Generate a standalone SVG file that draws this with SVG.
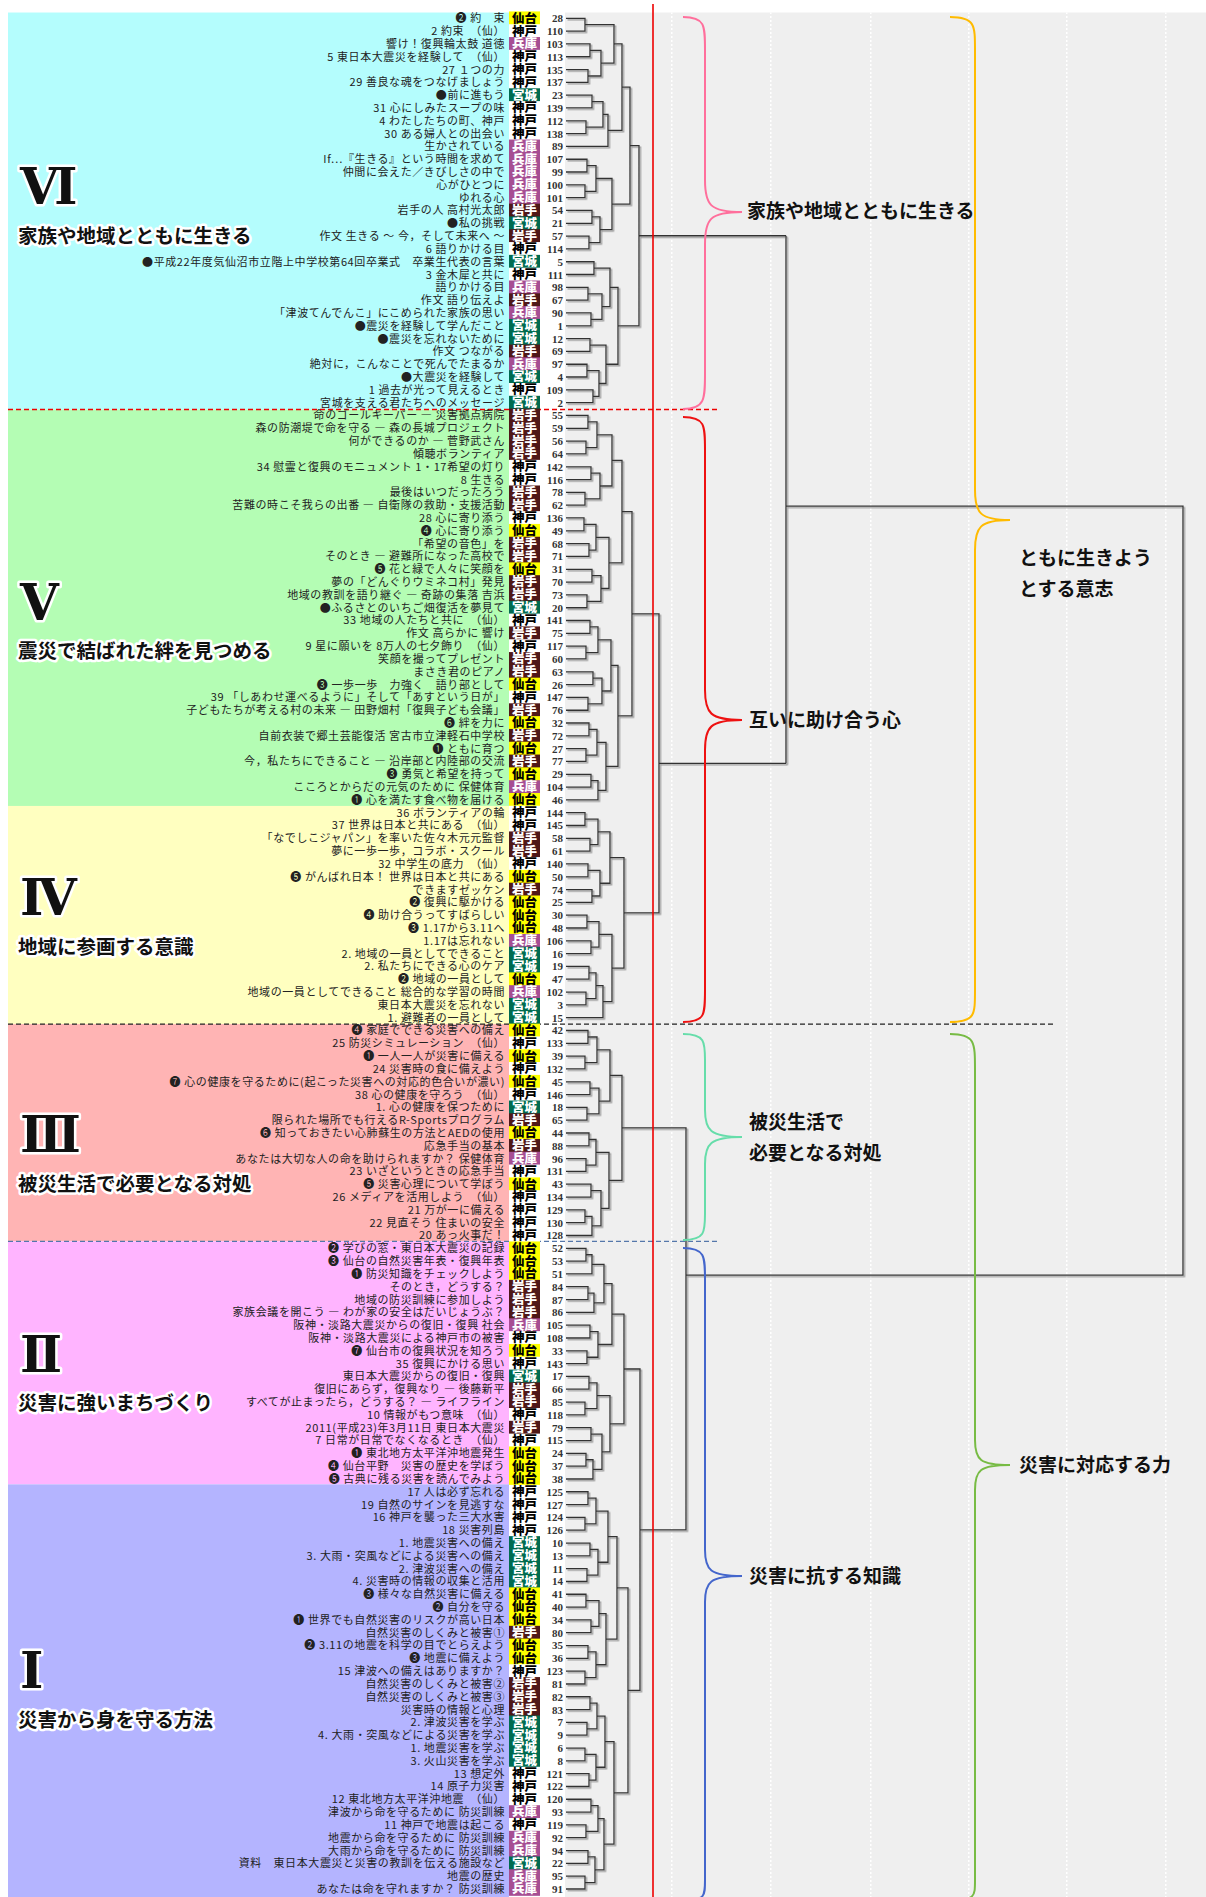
<svg xmlns="http://www.w3.org/2000/svg" xmlns:xlink="http://www.w3.org/1999/xlink" width="1206" height="1897" viewBox="0 0 1206 1897">
<style>
.lt{font-family:"Noto Sans CJK JP","Noto Sans",sans-serif;font-size:11px;text-anchor:end;fill:#222;letter-spacing:.6px}
.bt{font-family:"Noto Sans CJK JP",sans-serif;font-weight:900;font-size:12.5px;text-anchor:middle}
.nm{font-family:"Liberation Serif",serif;font-size:11px;font-weight:bold;text-anchor:end;fill:#333}
.rn{font-family:"DejaVu Serif","Liberation Serif",serif;font-weight:bold;font-size:50px;fill:#111;stroke:#fff;stroke-width:5px;paint-order:stroke;stroke-linejoin:round}
.tt{font-family:"Noto Sans CJK JP",sans-serif;font-weight:bold;font-size:19.5px;fill:#111;stroke:#fff;stroke-width:5px;paint-order:stroke;stroke-linejoin:round}
.bl{font-family:"Noto Sans CJK JP",sans-serif;font-weight:bold;font-size:19px;fill:#111}
.br{fill:none;stroke-width:2px}
.ln{fill:none;stroke:#333;stroke-width:1.3px}
</style>
<defs>
<g id="sd"><rect x="509" y="-6.9" width="31" height="13.8" fill="#ffff00"/><text class="bt" x="524.5" y="4.4" fill="#000">仙台</text></g>
<g id="kb"><rect x="509" y="-6.9" width="31" height="13.8" fill="#fff"/><text class="bt" x="524.5" y="4.4" fill="#000">神戸</text></g>
<g id="hg"><rect x="509" y="-6.9" width="31" height="13.8" fill="#a64e93"/><text class="bt" x="524.5" y="4.4" fill="#fff">兵庫</text></g>
<g id="iw"><rect x="509" y="-6.9" width="31" height="13.8" fill="#4f1818"/><text class="bt" x="524.5" y="4.4" fill="#fff">岩手</text></g>
<g id="mg"><rect x="509" y="-6.9" width="31" height="13.8" fill="#006b50"/><text class="bt" x="524.5" y="4.4" fill="#fff">宮城</text></g>
<pattern id="dots" width="2" height="4" patternUnits="userSpaceOnUse"><rect width="2" height="2" fill="#fff"/></pattern>
<filter id="sh" x="-5%" y="-5%" width="110%" height="110%"><feDropShadow dx="1.5" dy="1.5" stdDeviation="0" flood-color="#999"/></filter>
</defs>

<!-- plot area -->
<rect width="1206" height="1897" fill="#fff"/>
<rect x="565" y="12.5" width="641" height="1885" fill="#efefef"/>
<g fill="url(#dots)">
<rect x="671" y="12.5" width="1.5" height="1885"/>
<rect x="770" y="12.5" width="1.5" height="1885"/>
<rect x="870" y="12.5" width="1.5" height="1885"/>
<rect x="968" y="12.5" width="1.5" height="1885"/>
<rect x="1066" y="12.5" width="1.5" height="1885"/>
<rect x="1165" y="12.5" width="1.5" height="1885"/>
</g>

<!-- list and tree share one vertical scale -->
<g transform="matrix(1,0,0,0.996166,0,0.0702)">
<rect x="8" y="12.5" width="501" height="398.5" fill="#b4fdfd"/>
<rect x="8" y="411" width="501" height="398" fill="#b4fdb4"/>
<rect x="8" y="809" width="501" height="219" fill="#ffffc0"/>
<rect x="8" y="1028" width="501" height="218" fill="#ffb4b4"/>
<rect x="8" y="1246" width="501" height="244" fill="#ffb4ff"/>
<rect x="8" y="1490" width="501" height="420" fill="#b4b4ff"/>

<!-- section dividers -->
<line x1="8" y1="411" x2="720" y2="411" stroke="#e00" stroke-width="1.3" stroke-dasharray="5,3"/>
<line x1="8" y1="1028" x2="1055" y2="1028" stroke="#222" stroke-width="1.3" stroke-dasharray="5,3"/>
<line x1="8" y1="1246" x2="720" y2="1246" stroke="#5577aa" stroke-width="1.3" stroke-dasharray="5,3"/>

<!-- leaves -->
<g id="leaves">
<g id="n28" transform="translate(0,18.3)"><text class="lt" x="505" y="4">❷ 約　束</text><use href="#sd"/><text class="nm" x="563" y="4">28</text></g>
<g id="n110" transform="translate(0,31.16)"><text class="lt" x="505" y="4">2 約束　（仙）</text><use href="#kb"/><text class="nm" x="563" y="4">110</text></g>
<g id="n103" transform="translate(0,44.02)"><text class="lt" x="505" y="4">響け！復興輪太鼓 道徳</text><use href="#hg"/><text class="nm" x="563" y="4">103</text></g>
<g id="n113" transform="translate(0,56.89)"><text class="lt" x="505" y="4">5 東日本大震災を経験して　（仙）</text><use href="#kb"/><text class="nm" x="563" y="4">113</text></g>
<g id="n135" transform="translate(0,69.75)"><text class="lt" x="505" y="4">27 １つの力</text><use href="#kb"/><text class="nm" x="563" y="4">135</text></g>
<g id="n137" transform="translate(0,82.61)"><text class="lt" x="505" y="4">29 善良な魂をつなげましょう</text><use href="#kb"/><text class="nm" x="563" y="4">137</text></g>
<g id="n23" transform="translate(0,95.47)"><text class="lt" x="505" y="4">●前に進もう</text><use href="#mg"/><text class="nm" x="563" y="4">23</text></g>
<g id="n139" transform="translate(0,108.33)"><text class="lt" x="505" y="4">31 心にしみたスープの味</text><use href="#kb"/><text class="nm" x="563" y="4">139</text></g>
<g id="n112" transform="translate(0,121.2)"><text class="lt" x="505" y="4">4 わたしたちの町、神戸</text><use href="#kb"/><text class="nm" x="563" y="4">112</text></g>
<g id="n138" transform="translate(0,134.06)"><text class="lt" x="505" y="4">30 ある婦人との出会い</text><use href="#kb"/><text class="nm" x="563" y="4">138</text></g>
<g id="n89" transform="translate(0,146.92)"><text class="lt" x="505" y="4">生かされている</text><use href="#hg"/><text class="nm" x="563" y="4">89</text></g>
<g id="n107" transform="translate(0,159.78)"><text class="lt" x="505" y="4">If…『生きる』という時間を求めて</text><use href="#hg"/><text class="nm" x="563" y="4">107</text></g>
<g id="n99" transform="translate(0,172.64)"><text class="lt" x="505" y="4">仲間に会えた／きびしさの中で</text><use href="#hg"/><text class="nm" x="563" y="4">99</text></g>
<g id="n100" transform="translate(0,185.51)"><text class="lt" x="505" y="4">心がひとつに</text><use href="#hg"/><text class="nm" x="563" y="4">100</text></g>
<g id="n101" transform="translate(0,198.37)"><text class="lt" x="505" y="4">ゆれる心</text><use href="#hg"/><text class="nm" x="563" y="4">101</text></g>
<g id="n54" transform="translate(0,211.23)"><text class="lt" x="505" y="4">岩手の人 高村光太郎</text><use href="#iw"/><text class="nm" x="563" y="4">54</text></g>
<g id="n21" transform="translate(0,224.09)"><text class="lt" x="505" y="4">●私の挑戦</text><use href="#mg"/><text class="nm" x="563" y="4">21</text></g>
<g id="n57" transform="translate(0,236.95)"><text class="lt" x="505" y="4">作文 生きる ～ 今，そして未来へ ～</text><use href="#iw"/><text class="nm" x="563" y="4">57</text></g>
<g id="n114" transform="translate(0,249.82)"><text class="lt" x="505" y="4">6 語りかける目</text><use href="#kb"/><text class="nm" x="563" y="4">114</text></g>
<g id="n5" transform="translate(0,262.68)"><text class="lt" x="505" y="4">●平成22年度気仙沼市立階上中学校第64回卒業式　卒業生代表の言葉</text><use href="#mg"/><text class="nm" x="563" y="4">5</text></g>
<g id="n111" transform="translate(0,275.54)"><text class="lt" x="505" y="4">3 金木犀と共に</text><use href="#kb"/><text class="nm" x="563" y="4">111</text></g>
<g id="n98" transform="translate(0,288.4)"><text class="lt" x="505" y="4">語りかける目</text><use href="#hg"/><text class="nm" x="563" y="4">98</text></g>
<g id="n67" transform="translate(0,301.26)"><text class="lt" x="505" y="4">作文 語り伝えよ</text><use href="#iw"/><text class="nm" x="563" y="4">67</text></g>
<g id="n90" transform="translate(0,314.13)"><text class="lt" x="505" y="4">「津波てんでんこ」にこめられた家族の思い</text><use href="#hg"/><text class="nm" x="563" y="4">90</text></g>
<g id="n1" transform="translate(0,326.99)"><text class="lt" x="505" y="4">●震災を経験して学んだこと</text><use href="#mg"/><text class="nm" x="563" y="4">1</text></g>
<g id="n12" transform="translate(0,339.85)"><text class="lt" x="505" y="4">●震災を忘れないために</text><use href="#mg"/><text class="nm" x="563" y="4">12</text></g>
<g id="n69" transform="translate(0,352.71)"><text class="lt" x="505" y="4">作文 つながる</text><use href="#iw"/><text class="nm" x="563" y="4">69</text></g>
<g id="n97" transform="translate(0,365.57)"><text class="lt" x="505" y="4">絶対に，こんなことで死んでたまるか</text><use href="#hg"/><text class="nm" x="563" y="4">97</text></g>
<g id="n4" transform="translate(0,378.44)"><text class="lt" x="505" y="4">●大震災を経験して</text><use href="#mg"/><text class="nm" x="563" y="4">4</text></g>
<g id="n109" transform="translate(0,391.3)"><text class="lt" x="505" y="4">1 過去が光って見えるとき</text><use href="#kb"/><text class="nm" x="563" y="4">109</text></g>
<g id="n2" transform="translate(0,404.16)"><text class="lt" x="505" y="4">宮城を支える君たちへのメッセージ</text><use href="#mg"/><text class="nm" x="563" y="4">2</text></g>
<g id="n55" transform="translate(0,417.02)"><text class="lt" x="505" y="4">命のゴールキーパー ― 災害拠点病院</text><use href="#iw"/><text class="nm" x="563" y="4">55</text></g>
<g id="n59" transform="translate(0,429.88)"><text class="lt" x="505" y="4">森の防潮堤で命を守る ― 森の長城プロジェクト</text><use href="#iw"/><text class="nm" x="563" y="4">59</text></g>
<g id="n56" transform="translate(0,442.75)"><text class="lt" x="505" y="4">何ができるのか ― 菅野武さん</text><use href="#iw"/><text class="nm" x="563" y="4">56</text></g>
<g id="n64" transform="translate(0,455.61)"><text class="lt" x="505" y="4">傾聴ボランティア</text><use href="#iw"/><text class="nm" x="563" y="4">64</text></g>
<g id="n142" transform="translate(0,468.47)"><text class="lt" x="505" y="4">34 慰霊と復興のモニュメント 1・17希望の灯り</text><use href="#kb"/><text class="nm" x="563" y="4">142</text></g>
<g id="n116" transform="translate(0,481.33)"><text class="lt" x="505" y="4">8 生きる</text><use href="#kb"/><text class="nm" x="563" y="4">116</text></g>
<g id="n78" transform="translate(0,494.19)"><text class="lt" x="505" y="4">最後はいつだったろう</text><use href="#iw"/><text class="nm" x="563" y="4">78</text></g>
<g id="n62" transform="translate(0,507.06)"><text class="lt" x="505" y="4">苦難の時こそ我らの出番 ― 自衛隊の救助・支援活動</text><use href="#iw"/><text class="nm" x="563" y="4">62</text></g>
<g id="n136" transform="translate(0,519.92)"><text class="lt" x="505" y="4">28 心に寄り添う</text><use href="#kb"/><text class="nm" x="563" y="4">136</text></g>
<g id="n49" transform="translate(0,532.78)"><text class="lt" x="505" y="4">❹ 心に寄り添う</text><use href="#sd"/><text class="nm" x="563" y="4">49</text></g>
<g id="n68" transform="translate(0,545.64)"><text class="lt" x="505" y="4">「希望の音色」を</text><use href="#iw"/><text class="nm" x="563" y="4">68</text></g>
<g id="n71" transform="translate(0,558.5)"><text class="lt" x="505" y="4">そのとき ― 避難所になった高校で</text><use href="#iw"/><text class="nm" x="563" y="4">71</text></g>
<g id="n31" transform="translate(0,571.37)"><text class="lt" x="505" y="4">❺ 花と緑で人々に笑顔を</text><use href="#sd"/><text class="nm" x="563" y="4">31</text></g>
<g id="n70" transform="translate(0,584.23)"><text class="lt" x="505" y="4">夢の「どんぐりウミネコ村」発見</text><use href="#iw"/><text class="nm" x="563" y="4">70</text></g>
<g id="n73" transform="translate(0,597.09)"><text class="lt" x="505" y="4">地域の教訓を語り継ぐ ― 奇跡の集落 吉浜</text><use href="#iw"/><text class="nm" x="563" y="4">73</text></g>
<g id="n20" transform="translate(0,609.95)"><text class="lt" x="505" y="4">●ふるさとのいちご畑復活を夢見て</text><use href="#mg"/><text class="nm" x="563" y="4">20</text></g>
<g id="n141" transform="translate(0,622.81)"><text class="lt" x="505" y="4">33 地域の人たちと共に　（仙）</text><use href="#kb"/><text class="nm" x="563" y="4">141</text></g>
<g id="n75" transform="translate(0,635.68)"><text class="lt" x="505" y="4">作文 高らかに 響け</text><use href="#iw"/><text class="nm" x="563" y="4">75</text></g>
<g id="n117" transform="translate(0,648.54)"><text class="lt" x="505" y="4">9 星に願いを 8万人の七夕飾り　（仙）</text><use href="#kb"/><text class="nm" x="563" y="4">117</text></g>
<g id="n60" transform="translate(0,661.4)"><text class="lt" x="505" y="4">笑顔を撮ってプレゼント</text><use href="#iw"/><text class="nm" x="563" y="4">60</text></g>
<g id="n63" transform="translate(0,674.26)"><text class="lt" x="505" y="4">まさき君のピアノ</text><use href="#iw"/><text class="nm" x="563" y="4">63</text></g>
<g id="n26" transform="translate(0,687.12)"><text class="lt" x="505" y="4">❸ 一歩一歩　力強く　語り部として</text><use href="#sd"/><text class="nm" x="563" y="4">26</text></g>
<g id="n147" transform="translate(0,699.99)"><text class="lt" x="505" y="4">39 「しあわせ運べるように」そして「あすという日が」</text><use href="#kb"/><text class="nm" x="563" y="4">147</text></g>
<g id="n76" transform="translate(0,712.85)"><text class="lt" x="505" y="4">子どもたちが考える村の未来 ― 田野畑村「復興子ども会議」</text><use href="#iw"/><text class="nm" x="563" y="4">76</text></g>
<g id="n32" transform="translate(0,725.71)"><text class="lt" x="505" y="4">❻ 絆を力に</text><use href="#sd"/><text class="nm" x="563" y="4">32</text></g>
<g id="n72" transform="translate(0,738.57)"><text class="lt" x="505" y="4">自前衣装で郷土芸能復活 宮古市立津軽石中学校</text><use href="#iw"/><text class="nm" x="563" y="4">72</text></g>
<g id="n27" transform="translate(0,751.43)"><text class="lt" x="505" y="4">❶ ともに育つ</text><use href="#sd"/><text class="nm" x="563" y="4">27</text></g>
<g id="n77" transform="translate(0,764.3)"><text class="lt" x="505" y="4">今，私たちにできること ― 沿岸部と内陸部の交流</text><use href="#iw"/><text class="nm" x="563" y="4">77</text></g>
<g id="n29" transform="translate(0,777.16)"><text class="lt" x="505" y="4">❸ 勇気と希望を持って</text><use href="#sd"/><text class="nm" x="563" y="4">29</text></g>
<g id="n104" transform="translate(0,790.02)"><text class="lt" x="505" y="4">こころとからだの元気のために 保健体育</text><use href="#hg"/><text class="nm" x="563" y="4">104</text></g>
<g id="n46" transform="translate(0,802.88)"><text class="lt" x="505" y="4">❶ 心を満たす食べ物を届ける</text><use href="#sd"/><text class="nm" x="563" y="4">46</text></g>
<g id="n144" transform="translate(0,815.74)"><text class="lt" x="505" y="4">36 ボランティアの輪</text><use href="#kb"/><text class="nm" x="563" y="4">144</text></g>
<g id="n145" transform="translate(0,828.61)"><text class="lt" x="505" y="4">37 世界は日本と共にある　（仙）</text><use href="#kb"/><text class="nm" x="563" y="4">145</text></g>
<g id="n58" transform="translate(0,841.47)"><text class="lt" x="505" y="4">「なでしこジャパン」を率いた佐々木元元監督</text><use href="#iw"/><text class="nm" x="563" y="4">58</text></g>
<g id="n61" transform="translate(0,854.33)"><text class="lt" x="505" y="4">夢に一歩一歩，コラボ・スクール</text><use href="#iw"/><text class="nm" x="563" y="4">61</text></g>
<g id="n140" transform="translate(0,867.19)"><text class="lt" x="505" y="4">32 中学生の底力　（仙）</text><use href="#kb"/><text class="nm" x="563" y="4">140</text></g>
<g id="n50" transform="translate(0,880.05)"><text class="lt" x="505" y="4">❺ がんばれ日本！ 世界は日本と共にある</text><use href="#sd"/><text class="nm" x="563" y="4">50</text></g>
<g id="n74" transform="translate(0,892.92)"><text class="lt" x="505" y="4">できますゼッケン</text><use href="#iw"/><text class="nm" x="563" y="4">74</text></g>
<g id="n25" transform="translate(0,905.78)"><text class="lt" x="505" y="4">❷ 復興に駆かける</text><use href="#sd"/><text class="nm" x="563" y="4">25</text></g>
<g id="n30" transform="translate(0,918.64)"><text class="lt" x="505" y="4">❹ 助け合うってすばらしい</text><use href="#sd"/><text class="nm" x="563" y="4">30</text></g>
<g id="n48" transform="translate(0,931.5)"><text class="lt" x="505" y="4">❸ 1.17から3.11へ</text><use href="#sd"/><text class="nm" x="563" y="4">48</text></g>
<g id="n106" transform="translate(0,944.36)"><text class="lt" x="505" y="4">1.17は忘れない</text><use href="#hg"/><text class="nm" x="563" y="4">106</text></g>
<g id="n16" transform="translate(0,957.23)"><text class="lt" x="505" y="4">2. 地域の一員としてできること</text><use href="#mg"/><text class="nm" x="563" y="4">16</text></g>
<g id="n19" transform="translate(0,970.09)"><text class="lt" x="505" y="4">2. 私たちにできる心のケア</text><use href="#mg"/><text class="nm" x="563" y="4">19</text></g>
<g id="n47" transform="translate(0,982.95)"><text class="lt" x="505" y="4">❷ 地域の一員として</text><use href="#sd"/><text class="nm" x="563" y="4">47</text></g>
<g id="n102" transform="translate(0,995.81)"><text class="lt" x="505" y="4">地域の一員としてできること 総合的な学習の時間</text><use href="#hg"/><text class="nm" x="563" y="4">102</text></g>
<g id="n3" transform="translate(0,1008.67)"><text class="lt" x="505" y="4">東日本大震災を忘れない</text><use href="#mg"/><text class="nm" x="563" y="4">3</text></g>
<g id="n15" transform="translate(0,1021.54)"><text class="lt" x="505" y="4">1. 避難者の一員として</text><use href="#mg"/><text class="nm" x="563" y="4">15</text></g>
<g id="n42" transform="translate(0,1034.4)"><text class="lt" x="505" y="4">❹ 家庭でできる災害への備え</text><use href="#sd"/><text class="nm" x="563" y="4">42</text></g>
<g id="n133" transform="translate(0,1047.26)"><text class="lt" x="505" y="4">25 防災シミュレーション　（仙）</text><use href="#kb"/><text class="nm" x="563" y="4">133</text></g>
<g id="n39" transform="translate(0,1060.12)"><text class="lt" x="505" y="4">❶ 一人一人が災害に備える</text><use href="#sd"/><text class="nm" x="563" y="4">39</text></g>
<g id="n132" transform="translate(0,1072.98)"><text class="lt" x="505" y="4">24 災害時の食に備えよう</text><use href="#kb"/><text class="nm" x="563" y="4">132</text></g>
<g id="n45" transform="translate(0,1085.85)"><text class="lt" x="505" y="4">❼ 心の健康を守るために(起こった災害への対応的色合いが濃い)</text><use href="#sd"/><text class="nm" x="563" y="4">45</text></g>
<g id="n146" transform="translate(0,1098.71)"><text class="lt" x="505" y="4">38 心の健康を守ろう　（仙）</text><use href="#kb"/><text class="nm" x="563" y="4">146</text></g>
<g id="n18" transform="translate(0,1111.57)"><text class="lt" x="505" y="4">1. 心の健康を保つために</text><use href="#mg"/><text class="nm" x="563" y="4">18</text></g>
<g id="n65" transform="translate(0,1124.43)"><text class="lt" x="505" y="4">限られた場所でも行えるR-Sportsプログラム</text><use href="#iw"/><text class="nm" x="563" y="4">65</text></g>
<g id="n44" transform="translate(0,1137.29)"><text class="lt" x="505" y="4">❻ 知っておきたい心肺蘇生の方法とAEDの使用</text><use href="#sd"/><text class="nm" x="563" y="4">44</text></g>
<g id="n88" transform="translate(0,1150.16)"><text class="lt" x="505" y="4">応急手当の基本</text><use href="#iw"/><text class="nm" x="563" y="4">88</text></g>
<g id="n96" transform="translate(0,1163.02)"><text class="lt" x="505" y="4">あなたは大切な人の命を助けられますか？ 保健体育</text><use href="#hg"/><text class="nm" x="563" y="4">96</text></g>
<g id="n131" transform="translate(0,1175.88)"><text class="lt" x="505" y="4">23 いざというときの応急手当</text><use href="#kb"/><text class="nm" x="563" y="4">131</text></g>
<g id="n43" transform="translate(0,1188.74)"><text class="lt" x="505" y="4">❺ 災害心理について学ぼう</text><use href="#sd"/><text class="nm" x="563" y="4">43</text></g>
<g id="n134" transform="translate(0,1201.6)"><text class="lt" x="505" y="4">26 メディアを活用しよう　（仙）</text><use href="#kb"/><text class="nm" x="563" y="4">134</text></g>
<g id="n129" transform="translate(0,1214.47)"><text class="lt" x="505" y="4">21 万が一に備える</text><use href="#kb"/><text class="nm" x="563" y="4">129</text></g>
<g id="n130" transform="translate(0,1227.33)"><text class="lt" x="505" y="4">22 見直そう 住まいの安全</text><use href="#kb"/><text class="nm" x="563" y="4">130</text></g>
<g id="n128" transform="translate(0,1240.19)"><text class="lt" x="505" y="4">20 あっ火事だ！</text><use href="#kb"/><text class="nm" x="563" y="4">128</text></g>
<g id="n52" transform="translate(0,1253.05)"><text class="lt" x="505" y="4">❷ 学びの窓・東日本大震災の記録</text><use href="#sd"/><text class="nm" x="563" y="4">52</text></g>
<g id="n53" transform="translate(0,1265.91)"><text class="lt" x="505" y="4">❸ 仙台の自然災害年表・復興年表</text><use href="#sd"/><text class="nm" x="563" y="4">53</text></g>
<g id="n51" transform="translate(0,1278.78)"><text class="lt" x="505" y="4">❶ 防災知識をチェックしよう</text><use href="#sd"/><text class="nm" x="563" y="4">51</text></g>
<g id="n84" transform="translate(0,1291.64)"><text class="lt" x="505" y="4">そのとき，どうする？</text><use href="#iw"/><text class="nm" x="563" y="4">84</text></g>
<g id="n87" transform="translate(0,1304.5)"><text class="lt" x="505" y="4">地域の防災訓練に参加しよう</text><use href="#iw"/><text class="nm" x="563" y="4">87</text></g>
<g id="n86" transform="translate(0,1317.36)"><text class="lt" x="505" y="4">家族会議を開こう ― わが家の安全はだいじょうぶ？</text><use href="#iw"/><text class="nm" x="563" y="4">86</text></g>
<g id="n105" transform="translate(0,1330.22)"><text class="lt" x="505" y="4">阪神・淡路大震災からの復旧・復興 社会</text><use href="#hg"/><text class="nm" x="563" y="4">105</text></g>
<g id="n108" transform="translate(0,1343.09)"><text class="lt" x="505" y="4">阪神・淡路大震災による神戸市の被害</text><use href="#kb"/><text class="nm" x="563" y="4">108</text></g>
<g id="n33" transform="translate(0,1355.95)"><text class="lt" x="505" y="4">❼ 仙台市の復興状況を知ろう</text><use href="#sd"/><text class="nm" x="563" y="4">33</text></g>
<g id="n143" transform="translate(0,1368.81)"><text class="lt" x="505" y="4">35 復興にかける思い</text><use href="#kb"/><text class="nm" x="563" y="4">143</text></g>
<g id="n17" transform="translate(0,1381.67)"><text class="lt" x="505" y="4">東日本大震災からの復旧・復興</text><use href="#mg"/><text class="nm" x="563" y="4">17</text></g>
<g id="n66" transform="translate(0,1394.53)"><text class="lt" x="505" y="4">復旧にあらず，復興なり ― 後藤新平</text><use href="#iw"/><text class="nm" x="563" y="4">66</text></g>
<g id="n85" transform="translate(0,1407.4)"><text class="lt" x="505" y="4">すべてが止まったら，どうする？ ― ライフライン</text><use href="#iw"/><text class="nm" x="563" y="4">85</text></g>
<g id="n118" transform="translate(0,1420.26)"><text class="lt" x="505" y="4">10 情報がもつ意味　（仙）</text><use href="#kb"/><text class="nm" x="563" y="4">118</text></g>
<g id="n79" transform="translate(0,1433.12)"><text class="lt" x="505" y="4">2011(平成23)年3月11日 東日本大震災</text><use href="#iw"/><text class="nm" x="563" y="4">79</text></g>
<g id="n115" transform="translate(0,1445.98)"><text class="lt" x="505" y="4">7 日常が日常でなくなるとき　（仙）</text><use href="#kb"/><text class="nm" x="563" y="4">115</text></g>
<g id="n24" transform="translate(0,1458.84)"><text class="lt" x="505" y="4">❶ 東北地方太平洋沖地震発生</text><use href="#sd"/><text class="nm" x="563" y="4">24</text></g>
<g id="n37" transform="translate(0,1471.71)"><text class="lt" x="505" y="4">❹ 仙台平野　災害の歴史を学ぼう</text><use href="#sd"/><text class="nm" x="563" y="4">37</text></g>
<g id="n38" transform="translate(0,1484.57)"><text class="lt" x="505" y="4">❺ 古典に残る災害を読んでみよう</text><use href="#sd"/><text class="nm" x="563" y="4">38</text></g>
<g id="n125" transform="translate(0,1497.43)"><text class="lt" x="505" y="4">17 人は必ず忘れる</text><use href="#kb"/><text class="nm" x="563" y="4">125</text></g>
<g id="n127" transform="translate(0,1510.29)"><text class="lt" x="505" y="4">19 自然のサインを見逃すな</text><use href="#kb"/><text class="nm" x="563" y="4">127</text></g>
<g id="n124" transform="translate(0,1523.15)"><text class="lt" x="505" y="4">16 神戸を襲った三大水害</text><use href="#kb"/><text class="nm" x="563" y="4">124</text></g>
<g id="n126" transform="translate(0,1536.02)"><text class="lt" x="505" y="4">18 災害列島</text><use href="#kb"/><text class="nm" x="563" y="4">126</text></g>
<g id="n10" transform="translate(0,1548.88)"><text class="lt" x="505" y="4">1. 地震災害への備え</text><use href="#mg"/><text class="nm" x="563" y="4">10</text></g>
<g id="n13" transform="translate(0,1561.74)"><text class="lt" x="505" y="4">3. 大雨・突風などによる災害への備え</text><use href="#mg"/><text class="nm" x="563" y="4">13</text></g>
<g id="n11" transform="translate(0,1574.6)"><text class="lt" x="505" y="4">2. 津波災害への備え</text><use href="#mg"/><text class="nm" x="563" y="4">11</text></g>
<g id="n14" transform="translate(0,1587.46)"><text class="lt" x="505" y="4">4. 災害時の情報の収集と活用</text><use href="#mg"/><text class="nm" x="563" y="4">14</text></g>
<g id="n41" transform="translate(0,1600.33)"><text class="lt" x="505" y="4">❸ 様々な自然災害に備える</text><use href="#sd"/><text class="nm" x="563" y="4">41</text></g>
<g id="n40" transform="translate(0,1613.19)"><text class="lt" x="505" y="4">❷ 自分を守る</text><use href="#sd"/><text class="nm" x="563" y="4">40</text></g>
<g id="n34" transform="translate(0,1626.05)"><text class="lt" x="505" y="4">❶ 世界でも自然災害のリスクが高い日本</text><use href="#sd"/><text class="nm" x="563" y="4">34</text></g>
<g id="n80" transform="translate(0,1638.91)"><text class="lt" x="505" y="4">自然災害のしくみと被害①</text><use href="#iw"/><text class="nm" x="563" y="4">80</text></g>
<g id="n35" transform="translate(0,1651.77)"><text class="lt" x="505" y="4">❷ 3.11の地震を科学の目でとらえよう</text><use href="#sd"/><text class="nm" x="563" y="4">35</text></g>
<g id="n36" transform="translate(0,1664.64)"><text class="lt" x="505" y="4">❸ 地震に備えよう</text><use href="#sd"/><text class="nm" x="563" y="4">36</text></g>
<g id="n123" transform="translate(0,1677.5)"><text class="lt" x="505" y="4">15 津波への備えはありますか？</text><use href="#kb"/><text class="nm" x="563" y="4">123</text></g>
<g id="n81" transform="translate(0,1690.36)"><text class="lt" x="505" y="4">自然災害のしくみと被害②</text><use href="#iw"/><text class="nm" x="563" y="4">81</text></g>
<g id="n82" transform="translate(0,1703.22)"><text class="lt" x="505" y="4">自然災害のしくみと被害③</text><use href="#iw"/><text class="nm" x="563" y="4">82</text></g>
<g id="n83" transform="translate(0,1716.08)"><text class="lt" x="505" y="4">災害時の情報と心理</text><use href="#iw"/><text class="nm" x="563" y="4">83</text></g>
<g id="n7" transform="translate(0,1728.95)"><text class="lt" x="505" y="4">2. 津波災害を学ぶ</text><use href="#mg"/><text class="nm" x="563" y="4">7</text></g>
<g id="n9" transform="translate(0,1741.81)"><text class="lt" x="505" y="4">4. 大雨・突風などによる災害を学ぶ</text><use href="#mg"/><text class="nm" x="563" y="4">9</text></g>
<g id="n6" transform="translate(0,1754.67)"><text class="lt" x="505" y="4">1. 地震災害を学ぶ</text><use href="#mg"/><text class="nm" x="563" y="4">6</text></g>
<g id="n8" transform="translate(0,1767.53)"><text class="lt" x="505" y="4">3. 火山災害を学ぶ</text><use href="#mg"/><text class="nm" x="563" y="4">8</text></g>
<g id="n121" transform="translate(0,1780.39)"><text class="lt" x="505" y="4">13 想定外</text><use href="#kb"/><text class="nm" x="563" y="4">121</text></g>
<g id="n122" transform="translate(0,1793.26)"><text class="lt" x="505" y="4">14 原子力災害</text><use href="#kb"/><text class="nm" x="563" y="4">122</text></g>
<g id="n120" transform="translate(0,1806.12)"><text class="lt" x="505" y="4">12 東北地方太平洋沖地震　（仙）</text><use href="#kb"/><text class="nm" x="563" y="4">120</text></g>
<g id="n93" transform="translate(0,1818.98)"><text class="lt" x="505" y="4">津波から命を守るために 防災訓練</text><use href="#hg"/><text class="nm" x="563" y="4">93</text></g>
<g id="n119" transform="translate(0,1831.84)"><text class="lt" x="505" y="4">11 神戸で地震は起こる</text><use href="#kb"/><text class="nm" x="563" y="4">119</text></g>
<g id="n92" transform="translate(0,1844.7)"><text class="lt" x="505" y="4">地震から命を守るために 防災訓練</text><use href="#hg"/><text class="nm" x="563" y="4">92</text></g>
<g id="n94" transform="translate(0,1857.57)"><text class="lt" x="505" y="4">大雨から命を守るために 防災訓練</text><use href="#hg"/><text class="nm" x="563" y="4">94</text></g>
<g id="n22" transform="translate(0,1870.43)"><text class="lt" x="505" y="4">資料　東日本大震災と災害の教訓を伝える施設など</text><use href="#mg"/><text class="nm" x="563" y="4">22</text></g>
<g id="n95" transform="translate(0,1883.29)"><text class="lt" x="505" y="4">地震の歴史</text><use href="#hg"/><text class="nm" x="563" y="4">95</text></g>
<g id="n91" transform="translate(0,1896.15)"><text class="lt" x="505" y="4">あなたは命を守れますか？ 防災訓練</text><use href="#hg"/><text class="nm" x="563" y="4">91</text></g>
</g>

<!-- dendrogram -->
<g id="connectors" class="ln" filter="url(#sh)">
<path d="M566,18.3H585V31.2H566M566,44H590V56.9H566M566,69.8H588V82.6H566M590,50.5H601V76.2H588M585,24.7H614V63.3H601M566,95.5H592V108.3H566M566,121.2H586V134.1H566M592,101.9H603V127.6H586M603,114.8H608V146.9H566M614,44H622V130.8H608M566,159.8H587V172.6H566M566,185.5H585V198.4H566M587,166.2H596V192H585M566,211.2H592V224.1H566M566,237H589V249.8H566M592,217.7H600V243.4H589M596,179.1H612V230.5H600M622,87.4H630V204.8H612M566,262.7H594V275.5H566M566,288.4H588V301.3H566M566,314.1H591V327H566M588,294.9H602V320.6H591M594,269.1H610V307.7H602M566,339.9H590V352.7H566M566,365.6H587V378.4H566M566,391.3H593V404.2H566M587,372H599V397.8H593M590,346.3H606V384.9H599M610,288.4H618V365.6H606M630,146.1H639V327H618"/>
<path d="M566,417H588V429.9H566M566,442.8H586V455.6H566M588,423.5H597V449.2H586M566,468.5H591V481.3H566M566,494.2H585V507.1H566M591,474.9H600V500.7H585M597,436.4H612V487.8H600M566,519.9H584V532.8H566M566,545.6H589V558.5H566M584,526.4H596V552.1H589M566,571.4H592V584.2H566M566,597.1H587V610H566M592,577.8H601V603.6H587M596,539.3H609V590.7H601M612,462.1H622V565H609M566,622.8H590V635.7H566M566,648.5H586V661.4H566M590,629.3H598V655H586M566,674.3H593V687.1H566M566,700H588V712.9H566M593,680.7H602V706.5H588M598,642.2H611V693.6H602M566,725.7H589V738.6H566M566,751.4H586V764.3H566M589,732.2H597V757.9H586M566,777.2H591V790H566M591,783.6H598V802.9H566M597,745.1H606V793.3H598M611,667.9H618V769.2H606M622,513.6H632V718.6H618"/>
<path d="M566,815.7H585V828.6H566M566,841.5H590V854.3H566M585,822.2H598V847.9H590M566,867.2H588V880.1H566M566,892.9H592V905.8H566M588,873.7H600V899.4H592M598,835.1H610V886.6H600M566,918.6H587V931.5H566M566,944.4H591V957.2H566M587,925.1H599V950.8H591M566,970.1H589V982.9H566M566,995.8H586V1008.7H566M589,976.5H596V1002.3H586M596,989.4H603V1021.5H566M599,938H612V1005.5H603M610,860.9H624V971.8H612M632,616.1H659V916.4H624"/>
<path d="M566,1034.4H588V1047.3H566M566,1060.1H585V1073H566M588,1040.9H597V1066.6H585M566,1085.9H590V1098.7H566M566,1111.6H587V1124.4H566M590,1092.3H599V1118H587M597,1053.8H610V1105.2H599M566,1137.3H589V1150.2H566M566,1163H586V1175.9H566M589,1143.8H596V1169.5H586M566,1188.7H591V1201.6H566M566,1214.5H585V1227.3H566M585,1220.9H592V1240.2H566M591,1195.2H601V1230.6H592M596,1156.7H609V1212.9H601M610,1079.5H622V1184.8H609"/>
<path d="M566,1253.1H586V1265.9H566M586,1259.5H592V1278.8H566M566,1291.6H588V1304.5H566M588,1298.1H594V1317.4H566M592,1269.2H604V1307.8H594M566,1330.2H590V1343.1H566M566,1356H587V1368.8H566M590,1336.7H598V1362.4H587M604,1288.5H612V1349.6H598M566,1381.7H589V1394.5H566M566,1407.4H585V1420.3H566M589,1388.1H597V1413.9H585M566,1433.1H591V1446H566M566,1458.8H586V1471.7H566M586,1465.3H593V1484.6H566M591,1439.6H602V1475H593M597,1401H610V1457.3H602M612,1319.1H624V1429.2H610"/>
<path d="M566,1497.4H588V1510.3H566M566,1523.2H585V1536H566M588,1503.9H596V1529.6H585M566,1548.9H590V1561.7H566M566,1574.6H587V1587.5H566M590,1555.3H598V1581.1H587M596,1516.8H608V1568.2H598M566,1600.3H586V1613.2H566M566,1626.1H591V1638.9H566M586,1606.8H599V1632.5H591M566,1651.8H588V1664.6H566M566,1677.5H585V1690.4H566M588,1658.2H596V1684H585M599,1619.7H606V1671.1H596M608,1542.5H617V1645.4H606M566,1703.2H590V1716.1H566M566,1729H587V1741.8H566M590,1709.7H597V1735.4H587M566,1754.7H585V1767.5H566M566,1780.4H589V1793.3H566M585,1761.1H596V1786.9H589M597,1722.6H605V1774H596M566,1806.1H591V1819H566M566,1831.8H586V1844.7H566M591,1812.6H598V1838.3H586M566,1857.6H588V1870.4H566M566,1883.3H585V1896.2H566M588,1864H595V1889.8H585M598,1825.5H604V1876.9H595M605,1748.3H614V1851.2H604M617,1594H628V1799.8H614M624,1374.2H640V1696.9H628M622,1132.2H686V1535.6H640"/>
<path d="M639,236.6H786M659,766.3H786M786,236.6V766.3M786,508H1183V1280H686"/>
</g>
</g>

<!-- section headings -->
<g id="sec6"><text class="rn" x="20" y="204">Ⅵ</text><text class="tt" x="18" y="243">家族や地域とともに生きる</text></g>
<g id="sec5"><text class="rn" x="20" y="620">Ⅴ</text><text class="tt" x="18" y="658">震災で結ばれた絆を見つめる</text></g>
<g id="sec4"><text class="rn" x="20" y="915">Ⅳ</text><text class="tt" x="18" y="954">地域に参画する意識</text></g>
<g id="sec3"><text class="rn" x="20" y="1152">Ⅲ</text><text class="tt" x="18" y="1191">被災生活で必要となる対処</text></g>
<g id="sec2"><text class="rn" x="20" y="1372">Ⅱ</text><text class="tt" x="18" y="1410">災害に強いまちづくり</text></g>
<g id="sec1"><text class="rn" x="20" y="1688">Ⅰ</text><text class="tt" x="18" y="1727">災害から身を守る方法</text></g>

<!-- red reference line -->
<line x1="653" y1="4" x2="653" y2="1897" stroke="#e00" stroke-width="1.6"/>

<!-- braces -->
<g id="braces">
<path class="br" stroke="#ff6f9c" d="M683,17C705,17 705,25 705,50V180C705,205 710,212 742,212C710,212 705,219 705,244V374C705,399 705,409 683,409"/>
<path class="br" stroke="#ee1111" d="M683,417C705,417 705,425 705,450V690C705,713 710,720 742,720C710,720 705,727 705,750V990C705,1015 705,1022 683,1022"/>
<path class="br" stroke="#66ddaa" d="M683,1034C705,1034 705,1042 705,1060V1110C705,1130 710,1137 742,1137C710,1137 705,1144 705,1164V1214C705,1232 705,1240 683,1240"/>
<path class="br" stroke="#4466cc" d="M683,1248C705,1248 705,1256 705,1280V1550C705,1570 710,1576 742,1576C710,1576 705,1582 705,1602V1880C705,1897 705,1900 683,1900"/>
<path class="br" stroke="#ffbb00" d="M950,17C975,17 975,25 975,50V490C975,513 980,520 1010,520C980,520 975,527 975,550V990C975,1015 975,1022 950,1022"/>
<path class="br" stroke="#77bb44" d="M950,1034C975,1034 975,1042 975,1070V1440C975,1460 980,1465 1010,1465C980,1465 975,1470 975,1490V1880C975,1897 975,1900 950,1900"/>
</g>
<g id="labels">
<text class="bl" x="747" y="218">家族や地域とともに生きる</text>
<text class="bl" x="749" y="727">互いに助け合う心</text>
<text class="bl" x="749" y="1129">被災生活で</text>
<text class="bl" x="749" y="1160">必要となる対処</text>
<text class="bl" x="749" y="1583">災害に抗する知識</text>
<text class="bl" x="1019" y="565">ともに生きよう</text>
<text class="bl" x="1019" y="596">とする意志</text>
<text class="bl" x="1019" y="1472">災害に対応する力</text>
</g>
</svg>
